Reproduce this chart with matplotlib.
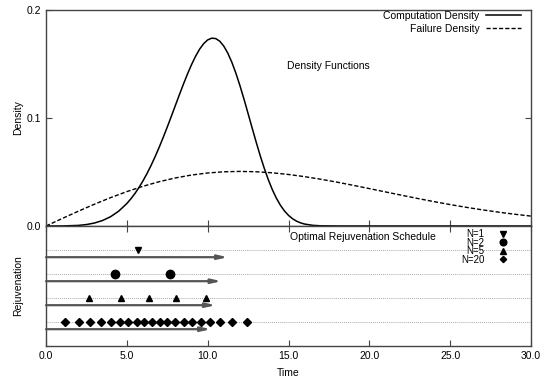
import matplotlib
matplotlib.use("Agg")
import matplotlib.pyplot as plt
from matplotlib.lines import Line2D

plt.rcParams["font.family"] = ["Liberation Sans", "DejaVu Sans"]
plt.rcParams["font.size"] = 7.5

# --- data ---
comp_t = [0.0, 1.0, 2.0, 2.5, 3.0, 3.5, 4.0, 4.5, 5.0, 5.25, 5.5, 5.75, 6.0, 6.25,
          6.5, 6.75, 7.0, 7.25, 7.5, 7.75, 8.0, 8.25, 8.5, 8.75, 9.0, 9.25, 9.5,
          9.75, 10.0, 10.25, 10.5, 10.75, 11.0, 11.25, 11.5, 11.75, 12.0, 12.25,
          12.5, 12.75, 13.0, 13.25, 13.5, 13.75, 14.0, 14.25, 14.5, 14.75, 15.0,
          15.25, 15.5, 15.75, 16.0, 16.5, 17.0, 18.0, 30.0]
comp_density = [0.0, 0.00003, 0.00054, 0.00133, 0.00275, 0.00509, 0.00865, 0.01378,
                0.02082, 0.02516, 0.03009, 0.03564, 0.04183, 0.04866, 0.05613,
                0.06422, 0.07287, 0.08203, 0.09161, 0.10149, 0.11152, 0.12154,
                0.13133, 0.14070, 0.14937, 0.15713, 0.16369, 0.16882, 0.17229,
                0.17391, 0.17353, 0.17106, 0.16649, 0.15989, 0.15141, 0.14126,
                0.12976, 0.11723, 0.10409, 0.09077, 0.07767, 0.06509, 0.05345,
                0.04288, 0.03362, 0.02573, 0.01918, 0.01392, 0.00981, 0.00671,
                0.00445, 0.00286, 0.00177, 0.00061, 0.00018, 0.00001, 0.0]

fail_t = list(range(0, 31))
fail_density = [0.0, 0.00692, 0.01370, 0.02019, 0.02628, 0.03184, 0.03677, 0.04101,
                0.04449, 0.04718, 0.04907, 0.05019, 0.05054, 0.05021, 0.04923,
                0.04769, 0.04568, 0.04328, 0.04058, 0.03767, 0.03463, 0.03154,
                0.02846, 0.02544, 0.02256, 0.01982, 0.01727, 0.01492, 0.01278,
                0.01086, 0.00915]

schedule_labels = ["N=1", "N=2", "N=5", "N=20"]
schedule_markers = ["v", "o", "^", "D"]
schedule_sizes = [5, 6, 5, 4]
schedule_times = [
    [5.7],
    [4.26, 7.65],
    [2.65, 4.63, 6.36, 8.07, 9.92],
    [1.19, 2.04, 2.72, 3.40, 4.01, 4.57, 5.10, 5.60, 6.07, 6.54, 7.04, 7.51,
     8.00, 8.52, 9.03, 9.57, 10.12, 10.74, 11.52, 12.45],
]
arrow_ends = [11.25, 10.85, 10.5, 10.2]
row_levels = [4, 3, 2, 1]

x_ticks = [0, 5, 10, 15, 20, 25, 30]
x_ticklabels = ["0.0", "5.0", "10.0", "15.0", "20.0", "25.0", "30.0"]
y_ticks = [0.0, 0.1, 0.2]

edge = "#444444"

fig = plt.figure(figsize=(5.42, 3.8), dpi=100)
ax1 = fig.add_axes([0.0849, 0.4053, 0.8948, 0.5684])
ax2 = fig.add_axes([0.0849, 0.0895, 0.8948, 0.3158])

for ax in (ax1, ax2):
    for s in ax.spines.values():
        s.set_color(edge)
        s.set_linewidth(1.0)
    ax.set_xlim(0, 30)
    ax.set_xticks(x_ticks)
    ax.tick_params(direction="in", length=4, color=edge, width=0.8)

# top panel: densities
ax1.plot(comp_t, comp_density, color="black", lw=1.1, label="Computation Density")
ax1.plot(fail_t, fail_density, color="black", lw=1.0, ls=(0, (3, 1.5)),
         label="Failure Density")
ax1.set_ylim(0, 0.2)
ax1.set_yticks(y_ticks)
ax1.set_yticklabels([f"{v:.1f}" for v in y_ticks])
ax1.tick_params(axis="y", right=True)
ax1.tick_params(axis="x", labelbottom=False)
ax1.set_ylabel("Density")
ax1.yaxis.set_label_coords(-0.047, 0.5)
ax1.text(14.9, 0.148, "Density Functions", ha="left", va="center")
ax1.legend(loc="upper right", frameon=False, markerfirst=False, handlelength=3.4,
           labelspacing=0.25, borderaxespad=0.0, borderpad=0.1, handletextpad=0.6,
           bbox_to_anchor=(0.982, 1.0))

# bottom panel: rejuvenation schedule
ax2.set_ylim(0, 5)
ax2.set_yticks([])
ax2.tick_params(axis="x", top=True)
ax2.set_xticklabels(x_ticklabels)
ax2.set_xlabel("Time", labelpad=5)
ax2.set_ylabel("Rejuvenation")
ax2.yaxis.set_label_coords(-0.047, 0.5)

handles = []
for lvl, times, mk, ms, end, lab in zip(row_levels, schedule_times, schedule_markers,
                                       schedule_sizes, arrow_ends, schedule_labels):
    ax2.axhline(lvl, color="#aaaaaa", lw=0.7, ls=(0, (1, 1)), zorder=1)
    ax2.plot(times, [lvl] * len(times), ls="none", marker=mk, ms=ms,
             color="black", zorder=3)
    ax2.annotate("", xy=(end, lvl - 0.3), xytext=(0, lvl - 0.3),
                 arrowprops=dict(arrowstyle="-|>,head_length=0.75,head_width=0.17",
                                 color="#555555", lw=1.6, shrinkA=0, shrinkB=0))
    handles.append(Line2D([], [], ls="none", marker=mk, ms=ms * 0.8, color="black",
                          label=lab))

ax2.text(15.1, 4.55, "Optimal Rejuvenation Schedule", ha="left", va="center")
ax2.legend(handles=handles, loc="upper right", frameon=False, markerfirst=False,
           fontsize=7, handlelength=1.0, labelspacing=-0.15, borderaxespad=0.0,
           borderpad=0.15, handletextpad=1.4, bbox_to_anchor=(0.955, 0.985))

fig.savefig("out.png", dpi=100)
